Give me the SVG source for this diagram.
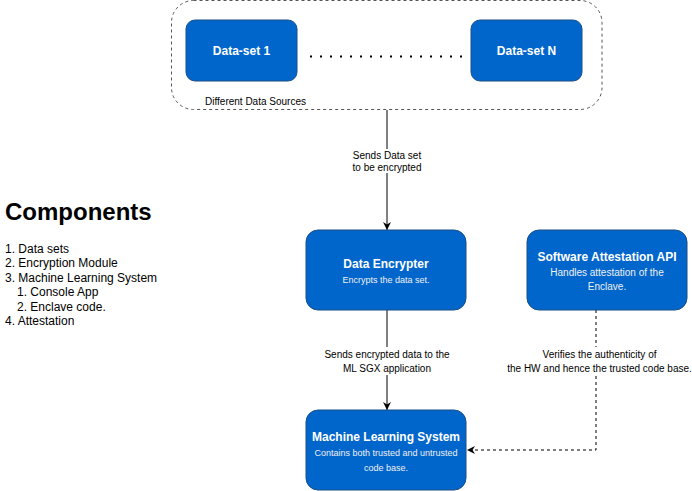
<svg xmlns="http://www.w3.org/2000/svg" width="692" height="491" viewBox="0 0 692 491">
<style>
  .node { fill: #0066CC; stroke: #1A4F86; stroke-width: 1; }
  .title { font-family: "Liberation Sans", Arial, sans-serif; font-weight: bold; font-size: 12px; fill: #FFFFFF; text-anchor: middle; }
  .sub { font-family: "Liberation Sans", Arial, sans-serif; font-size: 9px; fill: #F0F0F0; text-anchor: middle; }
  .sub10 { font-family: "Liberation Sans", Arial, sans-serif; font-size: 10px; fill: #F0F0F0; text-anchor: middle; }
  .lbl { font-family: "Liberation Sans", Arial, sans-serif; font-size: 10px; fill: #000000; text-anchor: middle; }
  .plain { font-family: "Liberation Sans", Arial, sans-serif; font-size: 12px; fill: #000000; }
  .edge { fill: none; stroke: #000000; stroke-width: 1; }
  .dashed { stroke-dasharray: 3 3; }
</style>
<defs>
  <marker id="arrow" viewBox="0 0 10 10" refX="10" refY="5" markerWidth="8" markerHeight="8" markerUnits="userSpaceOnUse" orient="auto">
    <path d="M0,0 L10,5 L0,10 L3,5 Z" fill="#000000"/>
  </marker>
</defs>
<rect width="692" height="491" fill="#FFFFFF"/>

<g id="data-sources">
  <rect x="171.5" y="0.5" width="430.5" height="109" rx="22" ry="22" fill="none" stroke="#555555" stroke-width="1" stroke-dasharray="3 3"/>
  <text x="205" y="105.3" style="font-family: 'Liberation Sans', Arial, sans-serif; font-size: 10px; fill: #000;">Different Data Sources</text>
</g>

<g id="dataset-1">
  <rect class="node" x="186" y="20" width="111" height="61" rx="9" ry="9"/>
  <text class="title" x="241.5" y="54.8">Data-set 1</text>
</g>

<g id="dots">
  <line x1="310" y1="56.5" x2="463" y2="56.5" stroke="#000000" stroke-width="2" stroke-dasharray="2 8"/>
</g>

<g id="dataset-n">
  <rect class="node" x="471" y="20" width="111" height="61" rx="9" ry="9"/>
  <text class="title" x="526.5" y="54.8">Data-set N</text>
</g>

<g id="connectors">
  <line class="edge" x1="387" y1="110" x2="387" y2="230" marker-end="url(#arrow)"/>
  <line class="edge" x1="387" y1="310" x2="387" y2="410" marker-end="url(#arrow)"/>
  <polyline class="edge dashed" points="596,310 596,450 467,450" marker-end="url(#arrow)"/>
  <rect x="350" y="149" width="74" height="24" fill="#FFFFFF"/>
  <text class="lbl" x="387" y="158.6">Sends Data set</text>
  <text class="lbl" x="387" y="170.6">to be encrypted</text>
  <rect x="322" y="347" width="130" height="28" fill="#FFFFFF"/>
  <text class="lbl" x="387" y="357.6">Sends encrypted data to the</text>
  <text class="lbl" x="387" y="371.9">ML SGX application</text>
  <rect x="505" y="347" width="187" height="28" fill="#FFFFFF"/>
  <text class="lbl" x="599.5" y="357.6">Verifies the authenticity of</text>
  <text class="lbl" x="599.5" y="371.9">the HW and hence the trusted code base.</text>
</g>

<g id="data-encrypter">
  <rect class="node" x="306" y="230" width="160" height="80" rx="12" ry="12"/>
  <text class="title" x="386" y="268.3">Data Encrypter</text>
  <text class="sub" x="386" y="283.2">Encrypts the data set.</text>
</g>

<g id="attestation">
  <rect class="node" x="527" y="230" width="160" height="80" rx="12" ry="12"/>
  <text class="title" x="607" y="261">Software Attestation API</text>
  <text class="sub10" x="607" y="275.8">Handles attestation of the</text>
  <text class="sub10" x="607" y="289.5">Enclave.</text>
</g>

<g id="ml-system">
  <rect class="node" x="306" y="410" width="160" height="80" rx="12" ry="12"/>
  <text class="title" x="386" y="441">Machine Learning System</text>
  <text class="sub" x="386" y="456">Contains both trusted and untrusted</text>
  <text class="sub" x="386" y="470.5">code base.</text>
</g>

<g id="components">
  <text x="5" y="220" style="font-family: 'Liberation Sans', Arial, sans-serif; font-size: 24px; font-weight: bold; fill: #000;">Components</text>
  <text class="plain" x="5" y="252.5">1. Data sets</text>
  <text class="plain" x="5" y="267">2. Encryption Module</text>
  <text class="plain" x="5" y="281.5">3. Machine Learning System</text>
  <text class="plain" x="17" y="296">1. Console App</text>
  <text class="plain" x="17" y="310.5">2. Enclave code.</text>
  <text class="plain" x="5" y="325">4. Attestation</text>
</g>
</svg>
